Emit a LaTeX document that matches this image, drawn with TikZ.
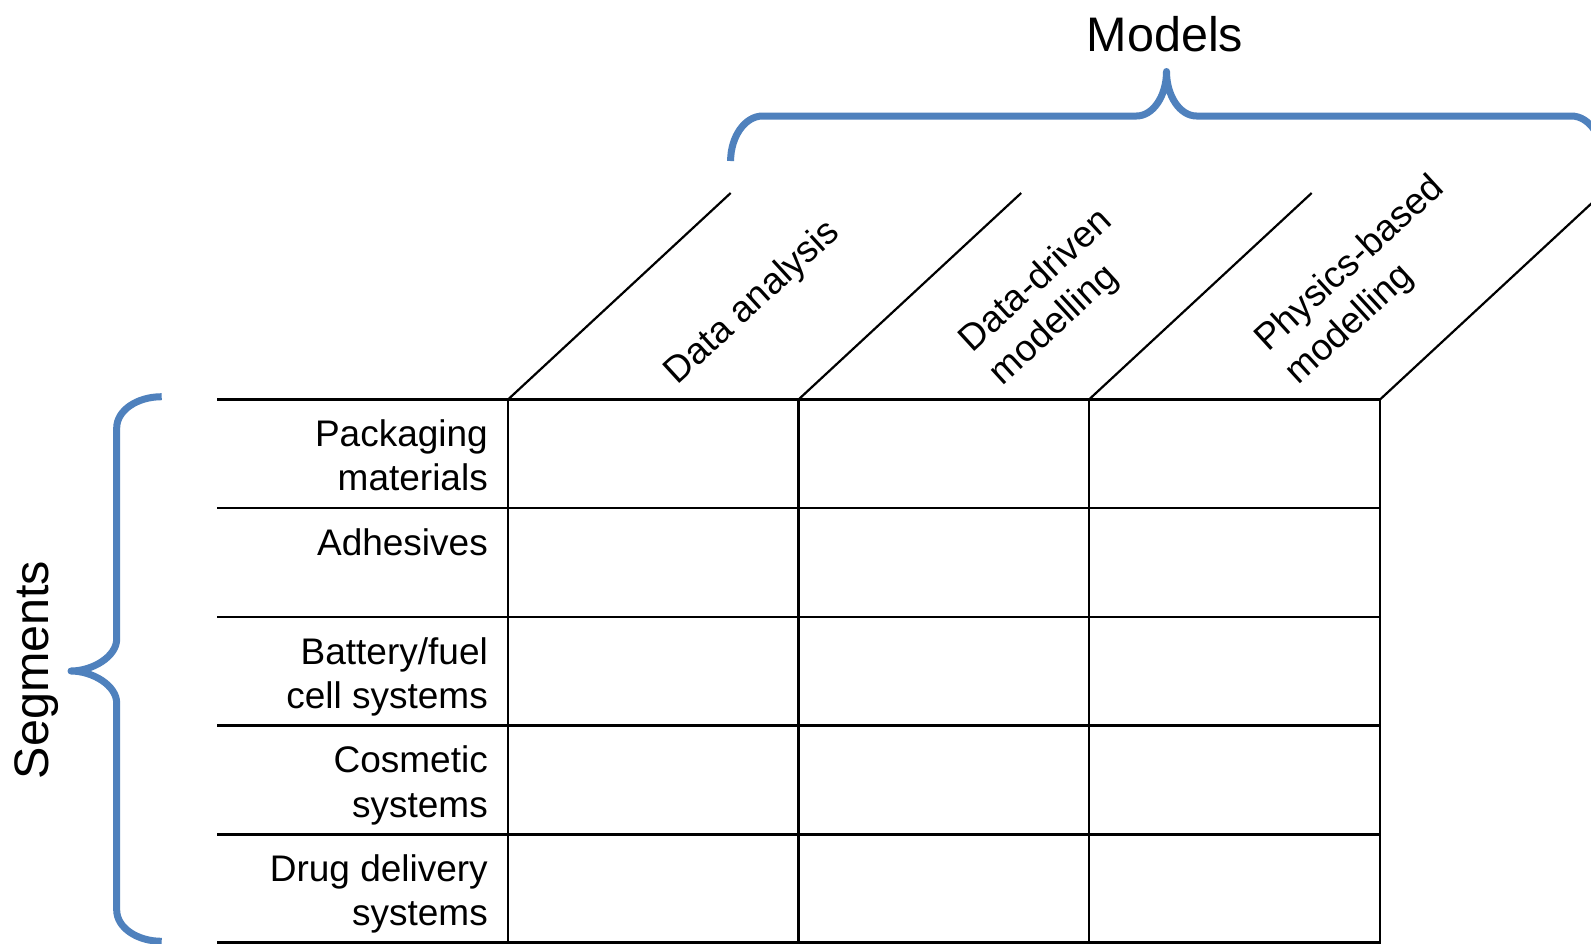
\documentclass[tikz,border=0pt]{standalone}
\usepackage{fontspec}
\setmainfont{Liberation Sans}
\definecolor{braceblue}{HTML}{4F81BD}
\begin{document}
\begin{tikzpicture}[x=1pt,y=-1pt,
  gridline/.style={line width=2.2pt, black},
  bracepath/.style={line width=7pt, braceblue, line join=round},
  rowlabel/.style={anchor=north east, align=right, inner sep=0pt, font=\fontsize{37}{44.6}\selectfont},
  collabel/.style={anchor=center, align=left, inner sep=0pt, rotate=42.5, font=\fontsize{37}{44.6}\selectfont},
  titlelabel/.style={inner sep=0pt, font=\fontsize{48.5}{55}\selectfont}]
\fill[white, use as bounding box] (0,0) rectangle (1591,943);

% grid coordinates
\foreach \n/\y in {0/399.5,1/508,2/617,3/725.5,4/834.5,5/942.5} {
  \coordinate (hl\n) at (217,\y);
  \coordinate (hr\n) at (1380,\y);
}
\foreach \n/\x in {0/508,1/798.5,2/1089,3/1380} {
  \coordinate (vt\n) at (\x,399.5);
  \coordinate (vb\n) at (\x,946);
  \coordinate (dt\n) at (\x+222.7,193);
}

% horizontal lines
\foreach \n in {0,...,5} { \draw[gridline] (hl\n) -- (hr\n); }
% vertical lines
\foreach \n in {0,...,3} { \draw[gridline] (vt\n) -- (vb\n); }
% diagonals
\foreach \n in {0,...,3} { \draw[gridline] (vt\n) -- (dt\n); }

% left brace
\draw[bracepath] (161.7,396.7) .. controls (136.9,396.7) and (116.7,410.5) .. (116.7,428)
  -- (116.7,639) .. controls (116.7,656.6) and (92.4,671) .. (71,671)
  .. controls (92.4,671) and (116.7,685.4) .. (116.7,703)
  -- (116.7,910) .. controls (116.7,927.5) and (136.9,941.3) .. (161.7,941.3);

% top brace
\draw[bracepath] (730.6,161) .. controls (730.6,136.8) and (744.9,116) .. (762.6,116)
  -- (1136.5,116) .. controls (1153,116) and (1166.5,96) .. (1166.5,71.5)
  .. controls (1166.5,96) and (1180,116) .. (1196.5,116)
  -- (1571.4,116) .. controls (1589,116) and (1603.4,136.8) .. (1603.4,161);

% row labels
\node[rowlabel] (packaging) at (488,416) {\rule{0pt}{30pt}Packaging\\materials};
\node[rowlabel] (adhesives) at (488,525) {\rule{0pt}{30pt}Adhesives};
\node[rowlabel] (battery) at (488,634) {\rule{0pt}{30pt}Battery/fuel\\cell systems};
\node[rowlabel] (cosmetic) at (488,742.5) {\rule{0pt}{30pt}Cosmetic\\systems};
\node[rowlabel] (drug) at (488,851) {\rule{0pt}{30pt}Drug delivery\\systems};

% column labels
\node[collabel] (dataanalysis) at (753,303) {Data analysis};
\node[collabel] (datadriven) at (1051.5,298) {Data-driven\\modelling};
\node[collabel] (physics) at (1365.5,281) {Physics-based\\modelling};

% titles
\node[titlelabel, anchor=base] (models) at (1165,51.5) {Models};
\node[titlelabel, rotate=90, anchor=center] (segments) at (37,670) {Segments};
\end{tikzpicture}
\end{document}
